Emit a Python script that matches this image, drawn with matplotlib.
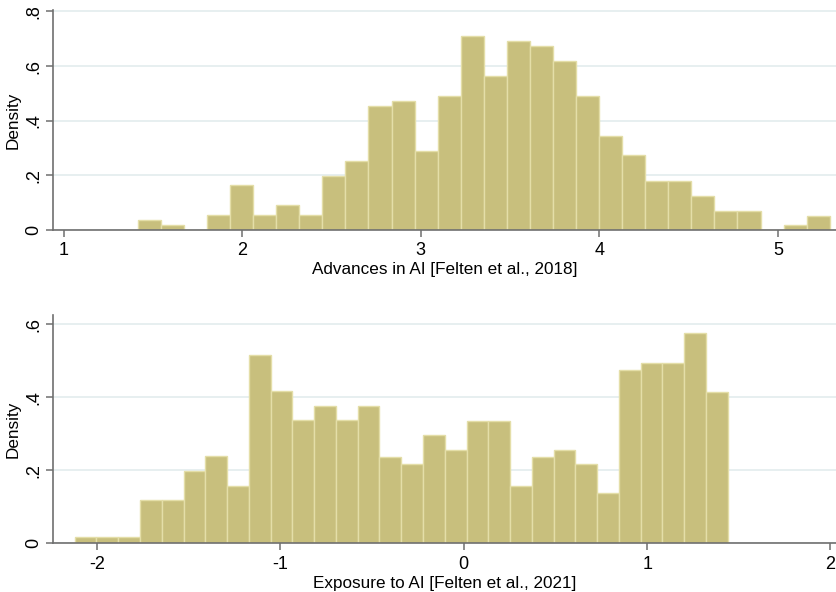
import numpy as np
import matplotlib
matplotlib.use('Agg')
import matplotlib.pyplot as plt

# top panel: Advances in AI [Felten et al., 2018]
top_lo, top_hi = 1.415, 5.29
top_dens = [0.036, 0.018, 0.0, 0.055, 0.164, 0.055, 0.090, 0.055, 0.198, 0.253,
            0.453, 0.473, 0.290, 0.489, 0.709, 0.562, 0.690, 0.672, 0.617, 0.489,
            0.344, 0.273, 0.179, 0.179, 0.124, 0.070, 0.070, 0.0, 0.017, 0.051]
top_xticks = [1, 2, 3, 4, 5]
top_yticks = [0, 0.2, 0.4, 0.6, 0.8]
top_ylabels = ['0', '.2', '.4', '.6', '.8']

# bottom panel: Exposure to AI [Felten et al., 2021]
bot_lo, bot_hi = -2.122, 1.44
bot_dens = [0.018, 0.018, 0.018, 0.118, 0.118, 0.198, 0.238, 0.157, 0.516, 0.417,
            0.337, 0.377, 0.337, 0.377, 0.237, 0.217, 0.296, 0.257, 0.335, 0.335,
            0.158, 0.237, 0.257, 0.217, 0.138, 0.475, 0.495, 0.495, 0.576, 0.416]
bot_xticks = [-2, -1, 0, 1, 2]
bot_yticks = [0, 0.2, 0.4, 0.6]
bot_ylabels = ['0', '.2', '.4', '.6']

plt.rcParams['font.family'] = ['Liberation Sans', 'DejaVu Sans']

barcol = '#c8bf7d'
edgecol = '#e4dea8'
gridcol = '#e3ecee'
axcol = '#6f6f6f'


def panel(ax, lo, hi, dens, xticks, yticks, ylabels, xlab, xlim, ylim):
	edges = np.linspace(lo, hi, len(dens) + 1)
	ax.bar(edges[:-1], dens, width=np.diff(edges), align='edge',
		color=barcol, edgecolor=edgecol, linewidth=1.0, zorder=2)
	ax.set_xlim(xlim)
	ax.set_ylim(ylim)
	ax.set_xticks(xticks)
	ax.set_xticklabels([str(t) for t in xticks], fontsize=13)
	ax.set_yticks(yticks)
	ax.set_yticklabels(ylabels, fontsize=13, rotation=90, va='center')
	ax.yaxis.grid(True, color=gridcol, linewidth=1.2, zorder=0)
	ax.set_axisbelow(True)
	for s in ['top', 'right']:
		ax.spines[s].set_visible(False)
	for s in ['left', 'bottom']:
		ax.spines[s].set_color(axcol)
		ax.spines[s].set_linewidth(1.2)
	ax.tick_params(colors=axcol, labelcolor='black', length=5, width=1.1)
	ax.tick_params(axis='x', pad=4)
	ax.tick_params(axis='y', pad=3)
	ax.set_xlabel(xlab, fontsize=12.3, labelpad=2)
	ax.set_ylabel('Density', fontsize=12.3, labelpad=3)


fig = plt.figure(figsize=(8.36, 5.92), dpi=100)
ax1 = fig.add_axes([0.0634, 0.6115, 0.9366, 0.3716])
ax2 = fig.add_axes([0.0634, 0.0823, 0.9366, 0.3856])

panel(ax1, top_lo, top_hi, top_dens, top_xticks, top_yticks, top_ylabels,
	'Advances in AI [Felten et al., 2018]', (0.94, 5.325), (0, 0.805))
panel(ax2, bot_lo, bot_hi, bot_dens, bot_xticks, bot_yticks, bot_ylabels,
	'Exposure to AI [Felten et al., 2021]', (-2.24, 2.03), (0, 0.626))

fig.savefig('out.png', dpi=100)
